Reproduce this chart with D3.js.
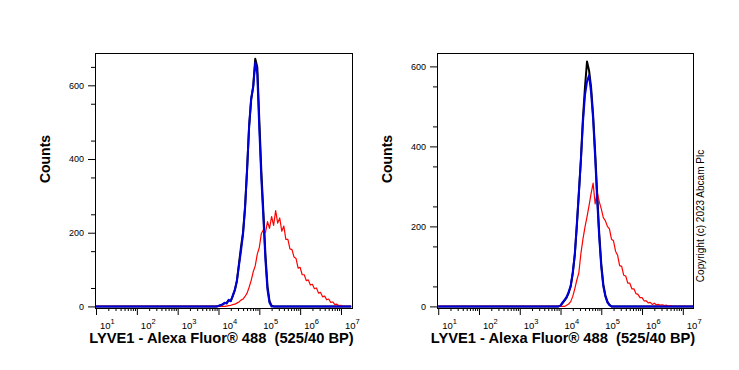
<!DOCTYPE html>
<html>
<head>
<meta charset="utf-8">
<script src="https://cdn.jsdelivr.net/npm/d3@7"></script>
<style>
	body { margin: 0; background: #fff; }
	svg text { font-family: Arial, "Liberation Sans", sans-serif; fill: #000; }
</style>
</head>
<body>
<svg id="chart" width="739" height="370"></svg>
<script>
// histogram bins, log10 of fluorescence (shared by both panels)
let bins = [1.0,
	3.80, 3.85, 3.90, 3.95, 4.00, 4.05, 4.10, 4.15, 4.20, 4.25,
	4.30, 4.35, 4.40, 4.45, 4.50, 4.55, 4.60, 4.65, 4.70, 4.75,
	4.80, 4.85, 4.90, 4.95, 5.00, 5.05, 5.10, 5.15, 5.20, 5.25,
	5.30, 5.35, 5.40, 5.45, 5.50, 5.55, 5.60, 5.65, 5.70, 5.75,
	5.80, 5.85, 5.90, 5.95, 6.00, 6.05, 6.10, 6.15, 6.20, 6.25,
	6.30, 6.35, 6.40, 6.45, 6.50, 6.55, 6.60, 6.65, 6.70, 6.75,
	6.80, 6.85, 6.90, 6.95, 7.00, 7.05, 7.10, 7.15, 7.20, 7.25];

// left panel counts
let leftBlack = [0,
	0, 0, 0, 0, 1, 3, 5, 9, 10, 16,
	15, 28, 44, 68, 115, 160, 200, 270, 372, 488,
	560, 598, 672, 650, 505, 365, 255, 140, 55, 14,
	2, 0, 0, 0, 0, 0, 0, 0, 0, 0,
	0, 0, 0, 0, 0, 0, 0, 0, 0, 0,
	0, 0, 0, 0, 0, 0, 0, 0, 0, 0,
	0, 0, 0, 0, 0, 0, 0, 0, 0, 0];
let leftRed = [0,
	0, 0, 0, 0, 0, 0, 0, 0, 1, 2,
	3, 5, 6, 9, 12, 17, 20, 27, 36, 52,
	70, 94, 110, 142, 160, 198, 208, 200, 230, 212,
	244, 220, 260, 226, 240, 204, 218, 182, 182, 156,
	154, 134, 130, 104, 106, 86, 86, 70, 72, 58,
	60, 48, 50, 36, 38, 26, 28, 18, 20, 11,
	12, 5, 6, 2, 3, 0, 0, 0, 0, 0];
let leftBlue = [0,
	0, 0, 0, 0, 1, 3, 6, 10, 8, 18,
	14, 30, 45, 70, 110, 150, 195, 265, 370, 490,
	565, 595, 662, 632, 480, 345, 240, 125, 45, 10,
	0, 0, 0, 0, 0, 0, 0, 0, 0, 0,
	0, 0, 0, 0, 0, 0, 0, 0, 0, 0,
	0, 0, 0, 0, 0, 0, 0, 0, 0, 0,
	0, 0, 0, 0, 0, 0, 0, 0, 0, 0];

// right panel counts
let rightBlack = [0,
	0, 0, 0, 0, 2, 8, 15, 22, 34, 50,
	82, 128, 200, 282, 368, 470, 548, 612, 590, 548,
	478, 385, 280, 182, 106, 55, 28, 12, 4, 0,
	0, 0, 0, 0, 0, 0, 0, 0, 0, 0,
	0, 0, 0, 0, 0, 0, 0, 0, 0, 0,
	0, 0, 0, 0, 0, 0, 0, 0, 0, 0,
	0, 0, 0, 0, 0, 0, 0, 0, 0, 0];
let rightRed = [0,
	0, 0, 0, 0, 0, 0, 0, 3, 6, 12,
	25, 44, 66, 84, 132, 168, 198, 224, 252, 282,
	308, 256, 286, 262, 244, 222, 214, 200, 194, 168,
	164, 138, 128, 102, 100, 78, 76, 58, 58, 44,
	44, 32, 30, 22, 22, 14, 14, 9, 10, 5,
	8, 4, 5, 3, 4, 2, 3, 1, 2, 0,
	0, 0, 0, 0, 0, 0, 0, 0, 0, 0];
let rightBlue = [0,
	0, 0, 0, 0, 2, 10, 16, 24, 36, 52,
	85, 130, 205, 285, 365, 460, 528, 562, 578, 535,
	468, 372, 265, 172, 98, 50, 25, 10, 3, 0,
	0, 0, 0, 0, 0, 0, 0, 0, 0, 0,
	0, 0, 0, 0, 0, 0, 0, 0, 0, 0,
	0, 0, 0, 0, 0, 0, 0, 0, 0, 0,
	0, 0, 0, 0, 0, 0, 0, 0, 0, 0];

let yMajorTicks = [0, 200, 400, 600];
let yMinorTicks = [50, 150, 250, 350, 450, 550, 650];
let xDecades = [1, 2, 3, 4, 5, 6, 7];
let xTitle = 'LYVE1 - Alexa Fluor\u00ae 488  (525/40 BP)';
let yTitle = 'Counts';
let copyright = 'Copyright (c) 2023 Abcam Plc';

let svg = d3.select('#chart');

function drawPanel(p) {
	let x = d3.scaleLog()
		.domain([Math.pow(10, p.xMin), Math.pow(10, p.xMax)])
		.range([p.left, p.right]);
	let y = d3.scaleLinear()
		.domain([p.yMin, p.yMax])
		.range([p.bottom, p.top]);

	let g = svg.append('g').attr('class', 'panel');

	g.append('clipPath').attr('id', 'clip-' + p.id)
		.append('rect')
		.attr('x', p.left).attr('y', p.top)
		.attr('width', p.right - p.left).attr('height', p.bottom - p.top);

	/* histogram lines */
	let line = d3.line()
		.x((d, i) => x(Math.pow(10, bins[i])))
		.y(d => y(d));

	let curves = g.append('g').attr('clip-path', 'url(#clip-' + p.id + ')');
	p.series.forEach(s => {
		curves.append('path')
			.attr('d', line(s.values))
			.attr('fill', 'none')
			.attr('stroke', s.color)
			.attr('stroke-width', s.width)
			.attr('stroke-linejoin', 'round');
	});

	/* frame */
	g.append('rect')
		.attr('x', p.left + 0.5).attr('y', p.top + 0.5)
		.attr('width', p.right - p.left).attr('height', p.bottom - p.top)
		.attr('fill', 'none')
		.attr('stroke', '#000');

	/* y axis */
	g.append('g')
		.attr('transform', `translate(${p.left},0)`)
		.call(d3.axisLeft(y)
			.tickValues(yMinorTicks.filter(v => v <= p.yMax))
			.tickSize(4)
			.tickFormat(''))
		.call(a => a.select('.domain').remove());

	g.append('g')
		.attr('transform', `translate(${p.left},0)`)
		.call(d3.axisLeft(y)
			.tickValues(yMajorTicks)
			.tickSize(7)
			.tickPadding(4))
		.call(a => a.select('.domain').remove())
		.call(a => a.selectAll('text')
			.attr('font-family', 'Arial, "Liberation Sans", sans-serif')
			.attr('font-size', 9));

	/* x axis, log */
	let majors = xDecades.map(d => Math.pow(10, d));
	let minors = x.ticks().filter(v => Math.abs(Math.log10(v) - Math.round(Math.log10(v))) > 1e-6);

	g.append('g')
		.attr('transform', `translate(0,${p.bottom})`)
		.call(d3.axisBottom(x).tickValues(minors).tickSize(3).tickFormat(''))
		.call(a => a.select('.domain').remove());

	g.append('g')
		.attr('transform', `translate(0,${p.bottom})`)
		.call(d3.axisBottom(x).tickValues(majors).tickSize(7).tickFormat(''))
		.call(a => a.select('.domain').remove());

	let labels = g.append('g');
	labels.selectAll('text')
		.data(xDecades)
		.enter()
		.append('text')
		.attr('x', d => x(Math.pow(10, d)) + 4)
		.attr('y', p.bottom + 21)
		.attr('font-size', 9.5)
		.text('10')
		.append('tspan')
		.attr('dy', -5)
		.attr('font-size', 7.5)
		.text(d => d);

	/* titles */
	g.append('text')
		.attr('x', (p.left + p.right) / 2 - 2)
		.attr('y', 343)
		.attr('text-anchor', 'middle')
		.attr('font-size', 14.7)
		.attr('font-weight', 'bold')
		.style('white-space', 'pre')
		.text(xTitle);

	g.append('text')
		.attr('transform', `translate(${p.left - 45},159) rotate(-90)`)
		.attr('text-anchor', 'middle')
		.attr('font-size', 14)
		.attr('font-weight', 'bold')
		.text(yTitle);
}

drawPanel({
	id: 'a', left: 95, right: 352, top: 53, bottom: 308,
	xMin: 0.975, xMax: 7.27, yMin: -4.3, yMax: 687.7,
	series: [
		{ values: leftBlack, color: '#000000', width: 2 },
		{ values: leftRed, color: '#ff0000', width: 1.2 },
		{ values: leftBlue, color: '#0000dd', width: 2 }
	]
});

drawPanel({
	id: 'b', left: 437, right: 693, top: 53, bottom: 308,
	xMin: 0.97, xMax: 7.25, yMin: -4, yMax: 633.5,
	series: [
		{ values: rightBlack, color: '#000000', width: 2 },
		{ values: rightRed, color: '#ff0000', width: 1.2 },
		{ values: rightBlue, color: '#0000dd', width: 2 }
	]
});

svg.append('text')
	.attr('transform', 'translate(704,216) rotate(-90)')
	.attr('text-anchor', 'middle')
	.attr('font-size', 10)
	.text(copyright);
</script>
</body>
</html>
